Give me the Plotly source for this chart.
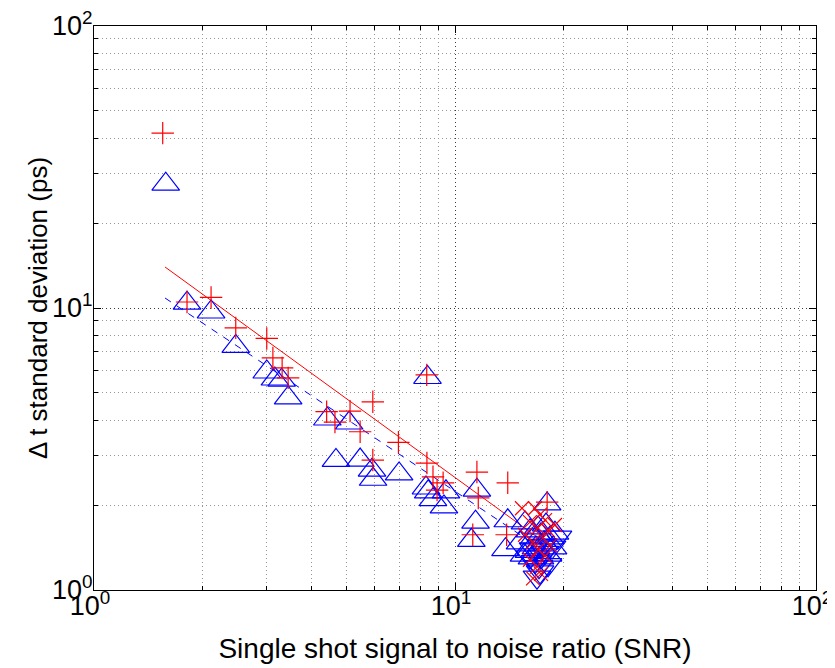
import plotly.graph_objects as go

# ---- data ----
plus_snr = [1.55, 1.81, 2.11, 2.47, 3.01, 3.13, 3.32, 3.45, 4.41, 4.65, 5.12, 5.46, 5.92,
            5.92, 6.97, 8.35, 8.36, 8.69, 9.27, 11.5, 11.6, 14.0, 11.2, 13.9, 18.0, 8.92]
plus_sd = [41.7, 10.5, 10.9, 8.5, 7.8, 6.65, 6.13, 5.65, 4.29, 3.94, 4.31, 3.64, 4.65,
           2.89, 3.34, 5.79, 2.82, 2.52, 2.40, 2.62, 2.12, 2.40, 1.57, 1.57, 2.05, 2.26]

tri_snr = [1.58, 1.81, 2.11, 2.47, 3.01, 3.17, 3.31, 3.45, 4.43, 5.09, 4.68, 5.46, 5.89,
           5.93, 7.00, 8.39, 8.31, 8.43, 8.69, 9.32, 9.44, 11.5, 11.4, 11.1, 14.0, 13.8,
           18.0, 15.63, 16.13, 16.55, 16.98, 17.31, 17.64, 16.76, 16.03, 17.87, 18.34,
           18.69, 17.2, 16.34, 18.1, 18.92, 15.14, 15.53]
tri_sd = [27.5, 10.4, 9.68, 7.31, 5.93, 5.60, 5.55, 4.80, 4.04, 3.91, 2.88, 2.89, 2.66,
          2.47, 2.58, 5.67, 2.30, 2.23, 2.09, 1.97, 2.23, 2.26, 1.74, 1.50, 1.76, 1.39,
          2.02, 1.73, 1.62, 1.53, 1.66, 1.57, 1.47, 1.41, 1.37, 1.70, 1.53,
          1.41, 1.30, 1.30, 1.33, 1.59, 1.47, 1.33]

x_snr = [15.33, 16.66, 17.2, 17.76, 16.13, 16.98, 18.1, 15.63, 17.53, 16.45, 18.34, 16.98,
         17.76, 16.13, 16.87, 17.31, 16.45, 18.92]
x_sd = [1.95, 1.95, 1.85, 1.77, 1.74, 1.66, 1.63, 1.57, 1.53, 1.48, 1.44, 1.39,
        1.32, 1.28, 1.21, 1.14, 1.10, 1.70]

dtri_snr = [16.87, 17.09, 16.66, 17.31, 17.76, 16.13, 18.1, 19.29, 18.57, 17.53, 16.45, 17.2]
dtri_sd = [1.11, 1.21, 1.26, 1.31, 1.36, 1.31, 1.23, 1.54, 1.42, 1.44, 1.40, 1.16]

fit_snr = [1.573, 18.57]
red_fit = [13.98, 1.41]
blue_fit = [10.85, 1.32]

major_vals = [1, 10, 100]
major_text = ["10<sup>0</sup>", "10<sup>1</sup>", "10<sup>2</sup>"]
minor_vals = [2, 3, 4, 5, 6, 7, 8, 9, 20, 30, 40, 50, 60, 70, 80, 90]

x_title = "Single shot signal to noise ratio (SNR)"
y_title = "Δ t standard deviation (ps)"

RED = "rgb(255,0,0)"
BLUE = "rgb(0,0,255)"

fig = go.Figure()

fig.add_trace(go.Scatter(x=fit_snr, y=red_fit, mode="lines",
                         line=dict(color=RED, width=1), hoverinfo="skip"))
fig.add_trace(go.Scatter(x=fit_snr, y=blue_fit, mode="lines",
                         line=dict(color=BLUE, width=1, dash="7px,7px"), hoverinfo="skip"))

fig.add_trace(go.Scatter(x=tri_snr, y=tri_sd, mode="markers",
                         marker=dict(symbol="triangle-up-open", size=24,
                                     color=BLUE, line=dict(color=BLUE, width=1.2))))
fig.add_trace(go.Scatter(x=dtri_snr, y=dtri_sd, mode="markers",
                         marker=dict(symbol="triangle-down-open", size=24,
                                     color=BLUE, line=dict(color=BLUE, width=1.2))))
fig.add_trace(go.Scatter(x=plus_snr, y=plus_sd, mode="markers",
                         marker=dict(symbol="cross-thin", size=16,
                                     color=RED, line=dict(color=RED, width=1.2))))
fig.add_trace(go.Scatter(x=x_snr, y=x_sd, mode="markers",
                         marker=dict(symbol="x-thin", size=14,
                                     color=RED, line=dict(color=RED, width=1.2))))

FONT = "Liberation Sans, Arial, sans-serif"

axis_common = dict(
    type="log", range=[0, 2], automargin=False, ticklabeloverflow="allow",
    tickmode="array", tickvals=major_vals, ticktext=major_text,
    ticks="inside", ticklen=7, tickcolor="black", tickwidth=1,
    showline=True, linecolor="black", linewidth=1, mirror="ticks",
    showgrid=True, gridcolor="rgb(60,60,60)", gridwidth=1, griddash="1px,3px",
    zeroline=False,
    tickfont=dict(family=FONT, size=27, color="black"),
    minor=dict(tickvals=minor_vals, ticks="inside", ticklen=4, tickcolor="black",
               showgrid=True, gridcolor="rgb(150,150,150)", gridwidth=1,
               griddash="1px,3px"),
)

fig.update_xaxes(**axis_common, ticklabelstandoff=-8, ticklabelshift=-4,
                 title=dict(text=x_title,
                            font=dict(family=FONT, size=28, color="black"), standoff=17))
fig.update_yaxes(**axis_common, ticklabelstandoff=-5)

fig.add_annotation(text=y_title, xref="paper", yref="paper", x=0, y=0.5,
                   xanchor="center", yanchor="middle", xshift=-56, textangle=-90,
                   showarrow=False, font=dict(family=FONT, size=26, color="black"))

fig.update_layout(
    width=835, height=668,
    margin=dict(l=86, r=27, t=18, b=86),
    paper_bgcolor="white", plot_bgcolor="white",
    showlegend=False,
    font=dict(family=FONT, color="black"),
)

fig.write_html("out.html")
